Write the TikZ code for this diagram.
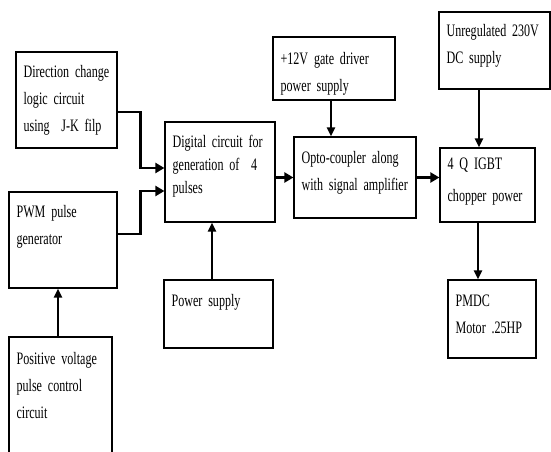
\documentclass[tikz,border=0pt]{standalone}
\usepackage{fontspec}
\setmainfont{Liberation Serif}[FakeStretch=0.69]
\usetikzlibrary{arrows.meta}
\newcommand{\boxfont}[1]{\fontsize{17.5}{#1}\selectfont\fontdimen2\font=3pt\relax}

\begin{document}
\begin{tikzpicture}[x=1pt, y=-1pt,
  blk/.style={draw, line width=1.2pt, inner sep=0pt},
  txt/.style={anchor=base west, inner sep=0pt, text width=120pt,
    font=\boxfont{27}},
  arr/.style={line width=2.8pt, -{Triangle[length=9pt,width=10pt]}},
  thin arr/.style={line width=2.2pt, -{Triangle[length=9pt,width=8pt]}}]
\useasboundingbox (0,0) rectangle (551,452);

% boxes
\node[blk, minimum width=101pt, minimum height=96pt]  (dir)   at (66.5,100)  {};
\node[blk, minimum width=108pt, minimum height=96pt]  (pwm)   at (63,240)    {};
\node[blk, minimum width=103pt, minimum height=130pt] (pos)   at (60.5,402)  {};
\node[blk, minimum width=110pt, minimum height=100pt] (dig)   at (220,172)   {};
\node[blk, minimum width=109pt, minimum height=68pt]  (pws)   at (218.5,314) {};
\node[blk, minimum width=122pt, minimum height=63pt]  (gate)  at (334,68.5)  {};
\node[blk, minimum width=122pt, minimum height=81pt]  (opto)  at (355,177.5) {};
\node[blk, minimum width=111pt, minimum height=77pt]  (unreg) at (494.5,50.5) {};
\node[blk, minimum width=95pt,  minimum height=74pt]  (igbt)  at (487.5,185) {};
\node[blk, minimum width=88pt,  minimum height=78pt]  (pmdc)  at (492,319)   {};

% texts
\node[txt] (dirt)   at ([shift={(8,26)}]dir.north west)   {Direction change\\logic circuit\\using~\ J-K filp};
\node[txt] (pwmt)   at ([shift={(8,26)}]pwm.north west)   {PWM pulse\\generator};
\node[txt] (post)   at ([shift={(8,28)}]pos.north west)   {Positive voltage\\pulse control\\circuit};
\node[txt, font=\boxfont{23}] (digt) at ([shift={(8,26)}]dig.north west) {Digital circuit for\\generation of~\ 4\\pulses};
\node[txt] (pwst)   at ([shift={(8,27)}]pws.north west)   {Power supply};
\node[txt] (gatet)  at ([shift={(8,28)}]gate.north west)  {+12V gate driver\\power supply};
\node[txt] (optot)  at ([shift={(8,27)}]opto.north west)  {Opto-coupler along\\with signal amplifier};
\node[txt] (unregt) at ([shift={(8,25)}]unreg.north west) {Unregulated 230V\\DC supply};
\node[txt, font=\boxfont{32}] (igbtt) at ([shift={(8,22)}]igbt.north west) {4 Q IGBT\\chopper power};
\node[txt] (pmdct)  at ([shift={(8,27)}]pmdc.north west)  {PMDC\\Motor .25HP};

% connectors
\draw[arr] ([yshift=-12pt]dir.east) -- ++(23,0) |- ([yshift=4pt]dig.west);
\draw[arr] ([yshift=6pt]pwm.east) -- ++(23,0) |- ([yshift=-19pt]dig.west);
\draw[thin arr] ([xshift=-2.5pt]pos.north) -- ([xshift=-5pt]pwm.south);
\draw[thin arr] ([xshift=-6.5pt]pws.north) -- ([xshift=-8pt]dig.south);
\draw[arr] (opto.west -| dig.east) -- (opto.west);
\draw[thin arr] ([xshift=-3pt]gate.south) -- ([xshift=-24pt]opto.north);
\draw[arr] (opto.east) -- (opto.east -| igbt.west);
\draw[thin arr] ([xshift=-15.5pt]unreg.south) -- ([xshift=-8.5pt]igbt.north);
\draw[thin arr] ([xshift=-9.5pt]igbt.south) -- ([xshift=-14pt]pmdc.north);
\end{tikzpicture}
\end{document}
